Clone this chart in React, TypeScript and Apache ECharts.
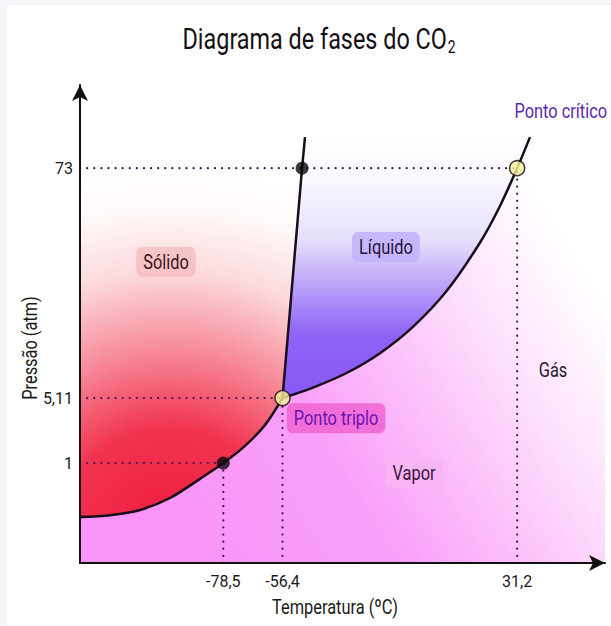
import React, { useEffect, useRef } from 'react';
import * as echarts from 'echarts';

// Temperature ticks (°C) and the pressure levels (atm) that go with them
const temperatureTicks = [-78.5, -56.4, 31.2];
const pressureTickLabels = ['1', '5,11', '73'];
// schematic height of each pressure level on the (non-linear) pressure axis
const pressureLevels = [20.9, 34.5, 82.6];

// Curves, in [temperature °C, schematic height]
const sublimationCurve: [number, number][] = [
  [-132, 9.6], [-120.8, 10.0], [-109.6, 11.1], [-98.4, 13.6], [-87.2, 17.6],
  [-78.5, 20.9], [-70.4, 24.5], [-62.9, 28.9], [-56.4, 34.5],
];
const fusionLine: [number, number][] = [
  [-56.4, 34.5], [-49.1, 82.6], [-48.0, 89.1],
];
const vaporizationCurve: [number, number][] = [
  [-56.4, 34.5], [-45.0, 36.7], [-32.3, 39.8], [-20.0, 43.9], [-7.7, 49.4],
  [5.0, 57.0], [17.3, 67.0], [24.8, 74.7], [31.2, 82.6], [36.0, 89.1],
];
const blackPoints: [number, number][] = [[-78.5, 20.9], [-49.1, 82.6]];
const yellowPoints: [number, number][] = [[-56.4, 34.5], [31.2, 82.6]];

// Region annotations
const regionNames = ['Sólido', 'Líquido', 'Ponto triplo', 'Vapor', 'Gás', 'Ponto crítico'];
const regionAnchors: [number, number][] = [
  [-99.9, 63.0], [-17.8, 66.1], [-36.4, 30.3], [-7.3, 18.8], [44.6, 40.4], [47.5, 94.6],
];

const X_MIN = -132;
const X_MAX = 64;
const Y_MIN = 0;
const Y_MAX = 100;

const FONT = "Roboto, 'Liberation Sans', sans-serif";
const INK = '#1a0d1a';
const SQ = 0.78; // horizontal squeeze for the condensed look

export default function App() {
  const ref = useRef<HTMLDivElement>(null);

  useEffect(() => {
    if (!ref.current) return;
    const chart = echarts.init(ref.current, null, { renderer: 'svg' });

    const guideSeries: any[] = [];
    temperatureTicks.forEach((t, i) => {
      const h = pressureLevels[i];
      const ls = { color: '#3d1d4d', width: 2.2, type: [0.1, 7], cap: 'round' };
      guideSeries.push({
        type: 'line', data: [[X_MIN, h], [t, h]], symbol: 'none', lineStyle: ls, z: 3, silent: true,
      });
      guideSeries.push({
        type: 'line', data: [[t, Y_MIN], [t, h]], symbol: 'none', lineStyle: ls, z: 3, silent: true,
      });
    });

    const labelStyles: any[] = [
      { backgroundColor: 'rgba(246,190,194,0.85)', fill: '#3a1518' },
      { backgroundColor: 'rgba(196,178,250,0.9)', fill: '#24163f' },
      { backgroundColor: 'rgba(240,104,212,0.9)', fill: '#6a14b0' },
      { backgroundColor: 'rgba(249,180,246,0.95)', fill: '#3a1538' },
      { backgroundColor: 'transparent', fill: '#2a1a2a' },
      { backgroundColor: 'transparent', fill: '#5a2aae' },
    ];

    const axisLine = {
      show: true, onZero: false, symbol: ['none', 'arrow'], symbolSize: [12, 16],
      lineStyle: { color: '#111', width: 2 },
    };

    const option: any = {
      animation: false,
      backgroundColor: '#ffffff',
      grid: { left: 80, right: 6, top: 85, bottom: 63 },
      graphic: [
        { type: 'rect', shape: { x: 0, y: 0, width: 611, height: 5 }, style: { fill: '#f6f6fb' }, z: -10 },
        { type: 'rect', shape: { x: 0, y: 0, width: 7, height: 626 }, style: { fill: '#f6f6fb' }, z: -10 },
        {
          type: 'text', x: 319, y: 22, scaleX: SQ,
          style: {
            text: '{a|Diagrama de fases do CO}{b|2}',
            textAlign: 'center', align: 'center',
            rich: {
              a: { fontFamily: FONT, fontSize: 30, fill: '#151015', color: '#151015' },
              b: { fontFamily: FONT, fontSize: 18, fill: '#151015', color: '#151015', padding: [16, 0, 0, 1] },
            },
          },
        },
        {
          type: 'text', x: 335, y: 607, scaleX: SQ,
          style: {
            text: 'Temperatura (ºC)', fontFamily: FONT, fontSize: 21, fill: '#1a1a1a',
            textAlign: 'center', align: 'center', textVerticalAlign: 'middle', verticalAlign: 'middle',
          },
        },
        {
          type: 'text', x: 30, y: 348, scaleX: SQ, rotation: Math.PI / 2,
          style: {
            text: 'Pressão (atm)', fontFamily: FONT, fontSize: 21, fill: '#1a1a1a',
            textAlign: 'center', align: 'center', textVerticalAlign: 'middle', verticalAlign: 'middle',
          },
        },
      ],
      xAxis: {
        type: 'value', min: X_MIN, max: X_MAX, z: 10,
        axisLine,
        axisTick: { show: false },
        splitLine: { show: false },
        axisLabel: {
          customValues: temperatureTicks,
          formatter: (v: number) => String(v).replace('.', ','),
          fontFamily: FONT, fontSize: 16, color: '#1a1a1a', margin: 10,
        },
      },
      yAxis: {
        type: 'value', min: Y_MIN, max: Y_MAX, z: 10,
        axisLine,
        axisTick: { show: false },
        splitLine: { show: false },
        axisLabel: {
          customValues: pressureLevels,
          formatter: (v: number) => {
            const i = pressureLevels.findIndex((p) => Math.abs(p - v) < 1e-6);
            return i >= 0 ? pressureTickLabels[i] : '';
          },
          fontFamily: FONT, fontSize: 16, color: '#1a1a1a', margin: 7,
        },
      },
      series: [
        {
          type: 'custom',
          coordinateSystem: 'cartesian2d',
          silent: true,
          clip: false,
          z: 1,
          data: [[0, 50]],
          renderItem: (_params: any, api: any) => {
            const c = (p: [number, number]) => api.coord(p);
            const fusTop = fusionLine[fusionLine.length - 1];
            const vapTop = vaporizationCurve[vaporizationCurve.length - 1];
            const topH = fusTop[1];

            const solid = [
              [X_MIN, topH], ...sublimationCurve, ...fusionLine.slice(1),
            ].map((p: any) => c(p));
            const liquid = [
              ...fusionLine, ...[...vaporizationCurve].reverse(),
            ].map((p: any) => c(p));
            const vapor = [
              [X_MIN, Y_MIN], ...sublimationCurve, ...vaporizationCurve.slice(1),
              [X_MAX, vapTop[1]], [X_MAX, Y_MIN],
            ].map((p: any) => c(p));

            const topY = c([X_MIN, Y_MAX])[1];
            const botY = c([X_MIN, Y_MIN])[1];
            const triple = c(fusionLine[0]);
            const rc = c([-98.4, 4.8]);
            const right = c([X_MAX, Y_MIN])[0];
            const left = c([X_MIN, Y_MIN])[0];

            return {
              type: 'group',
              children: [
                {
                  type: 'polygon', shape: { points: vapor },
                  style: {
                    fill: {
                      type: 'linear', global: true,
                      x: left + 120, y: botY, x2: right, y2: botY - 263,
                      colorStops: [
                        { offset: 0, color: '#f995f8' },
                        { offset: 0.35, color: '#fa9ff9' },
                        { offset: 0.6, color: '#fcc6fb' },
                        { offset: 0.8, color: '#fee6fd' },
                        { offset: 1, color: '#ffffff' },
                      ],
                    },
                  },
                },
                {
                  type: 'polygon', shape: { points: solid },
                  style: {
                    fill: {
                      type: 'radial', global: true,
                      x: rc[0], y: rc[1], r: (botY - topY) * 0.78,
                      colorStops: [
                        { offset: 0, color: '#ee1a3f' },
                        { offset: 0.3, color: '#f2334f' },
                        { offset: 0.52, color: '#f78e9c' },
                        { offset: 0.72, color: '#fcdadd' },
                        { offset: 0.88, color: '#fff7f7' },
                        { offset: 1, color: '#ffffff' },
                      ],
                    },
                  },
                },
                {
                  type: 'polygon', shape: { points: liquid },
                  style: {
                    fill: {
                      type: 'linear', global: true,
                      x: 0, y: topY, x2: 0, y2: triple[1],
                      colorStops: [
                        { offset: 0, color: '#ffffff' },
                        { offset: 0.27, color: '#fcfbff' },
                        { offset: 0.5, color: '#e6defd' },
                        { offset: 0.68, color: '#ae92f8' },
                        { offset: 0.8, color: '#8e62f6' },
                        { offset: 1, color: '#8a58f5' },
                      ],
                    },
                  },
                },
              ],
            };
          },
        },
        ...guideSeries,
        {
          type: 'line', data: sublimationCurve, smooth: 0.3, symbol: 'none',
          lineStyle: { color: INK, width: 2.5 }, z: 4, silent: true,
        },
        {
          type: 'line', data: fusionLine, smooth: false, symbol: 'none',
          lineStyle: { color: INK, width: 2.5 }, z: 4, silent: true,
        },
        {
          type: 'line', data: vaporizationCurve, smooth: 0.3, symbol: 'none',
          lineStyle: { color: INK, width: 2.5 }, z: 4, silent: true,
        },
        {
          type: 'scatter', data: blackPoints, symbolSize: 13,
          itemStyle: { color: '#0d070d' }, z: 5, silent: true,
        },
        {
          type: 'scatter', data: yellowPoints, symbolSize: 15,
          itemStyle: { color: '#f7f49a', borderColor: INK, borderWidth: 1.6 }, z: 5, silent: true,
        },
        {
          type: 'custom',
          coordinateSystem: 'cartesian2d',
          silent: true,
          clip: false,
          z: 6,
          data: regionAnchors.map((a, i) => [a[0], a[1], i]),
          renderItem: (_params: any, api: any) => {
            const i = api.value(2);
            const p = api.coord([api.value(0), api.value(1)]);
            return {
              type: 'text', x: p[0], y: p[1], scaleX: SQ,
              style: {
                text: regionNames[i],
                fontFamily: FONT, fontSize: 21,
                textAlign: 'center', align: 'center',
                textVerticalAlign: 'middle', verticalAlign: 'middle',
                padding: [5, 9, 4, 9], borderRadius: 7,
                ...labelStyles[i],
              },
            };
          },
        },
      ],
    };

    chart.setOption(option);
    return () => chart.dispose();
  }, []);

  return (
    <div
      ref={ref}
      style={{ position: 'fixed', left: 0, top: 0, width: 611, height: 626 }}
    />
  );
}
